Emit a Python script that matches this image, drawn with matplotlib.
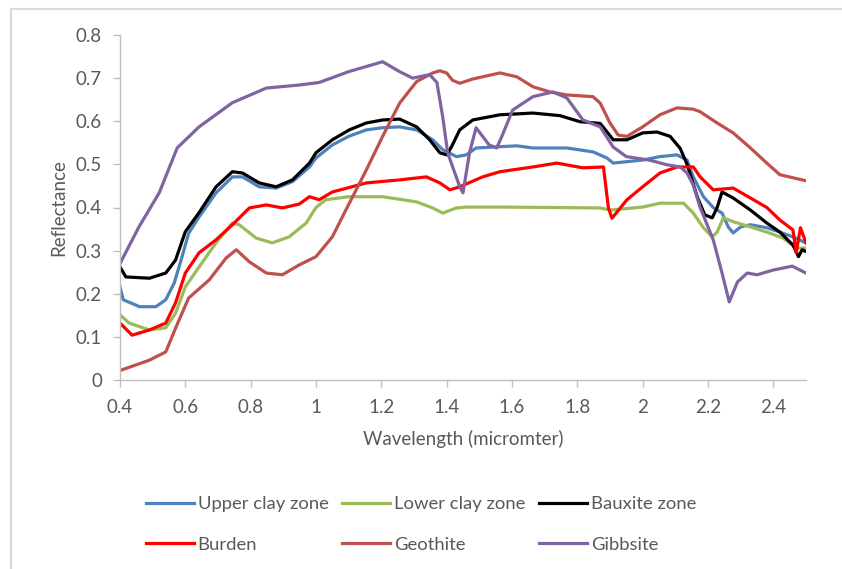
import numpy as np
import matplotlib
matplotlib.use("Agg")
import matplotlib.pyplot as plt
from matplotlib.patches import Rectangle

plt.rcParams["font.family"] = ["Lato", "DejaVu Sans"]

TXT = "#595959"
AX = "#BFBFBF"

# wavelength (micrometer) / reflectance
upper_w = [0.40, 0.41, 0.46, 0.51, 0.54, 0.566, 0.587, 0.61, 0.642, 0.694, 0.744, 0.775, 0.826,
           0.878, 0.928, 0.98, 1.0, 1.05, 1.10, 1.154, 1.204, 1.256, 1.308, 1.357, 1.388, 1.43,
           1.46, 1.49, 1.563, 1.615, 1.664, 1.768, 1.848, 1.89, 1.91, 2.0, 2.053, 2.105, 2.136,
           2.155, 2.186, 2.216, 2.243, 2.262, 2.277, 2.30, 2.33, 2.38, 2.42, 2.46, 2.5]
upper_r = [0.216, 0.186, 0.17, 0.17, 0.186, 0.225, 0.278, 0.340, 0.378, 0.434, 0.471, 0.471, 0.448,
           0.445, 0.46, 0.494, 0.515, 0.545, 0.565, 0.58, 0.585, 0.587, 0.58, 0.557, 0.534, 0.518,
           0.522, 0.538, 0.541, 0.543, 0.538, 0.538, 0.529, 0.515, 0.503, 0.51, 0.518, 0.522, 0.51,
           0.471, 0.425, 0.40, 0.387, 0.355, 0.341, 0.355, 0.36, 0.353, 0.343, 0.332, 0.318]

lower_w = [0.40, 0.428, 0.49, 0.54, 0.57, 0.60, 0.642, 0.694, 0.744, 0.765, 0.817, 0.866, 0.918,
           0.97, 1.0, 1.03, 1.10, 1.204, 1.308, 1.357, 1.388, 1.43, 1.46, 1.563, 1.87, 1.9, 2.0,
           2.053, 2.125, 2.155, 2.186, 2.213, 2.228, 2.247, 2.277, 2.33, 2.38, 2.43, 2.47, 2.5]
lower_r = [0.151, 0.132, 0.116, 0.121, 0.155, 0.216, 0.262, 0.318, 0.364, 0.36, 0.329, 0.318, 0.332,
           0.364, 0.40, 0.418, 0.425, 0.425, 0.413, 0.399, 0.387, 0.399, 0.401, 0.401, 0.399, 0.394,
           0.401, 0.41, 0.41, 0.387, 0.353, 0.332, 0.343, 0.376, 0.367, 0.355, 0.343, 0.329, 0.306, 0.306]

bauxite_w = [0.40, 0.418, 0.49, 0.54, 0.57, 0.60, 0.642, 0.694, 0.744, 0.775, 0.826, 0.878, 0.928,
             0.98, 1.0, 1.05, 1.102, 1.154, 1.204, 1.256, 1.308, 1.348, 1.379, 1.40, 1.415, 1.44,
             1.48, 1.563, 1.664, 1.747, 1.808, 1.87, 1.91, 1.952, 2.0, 2.044, 2.084, 2.115, 2.136,
             2.167, 2.19, 2.213, 2.228, 2.243, 2.277, 2.33, 2.38, 2.42, 2.46, 2.477, 2.488, 2.5]
bauxite_r = [0.262, 0.239, 0.236, 0.248, 0.278, 0.344, 0.388, 0.448, 0.483, 0.48, 0.457, 0.448, 0.464,
             0.503, 0.527, 0.557, 0.58, 0.596, 0.603, 0.605, 0.587, 0.557, 0.527, 0.522, 0.541, 0.58,
             0.603, 0.615, 0.619, 0.613, 0.599, 0.595, 0.557, 0.557, 0.573, 0.575, 0.565, 0.537, 0.50,
             0.425, 0.383, 0.376, 0.40, 0.436, 0.422, 0.394, 0.364, 0.343, 0.313, 0.286, 0.302, 0.298]

burden_w = [0.40, 0.437, 0.49, 0.54, 0.57, 0.60, 0.642, 0.694, 0.744, 0.796, 0.848, 0.897, 0.949,
            0.98, 1.01, 1.05, 1.154, 1.256, 1.338, 1.379, 1.41, 1.44, 1.51, 1.563, 1.664, 1.737,
            1.817, 1.88, 1.895, 1.906, 1.952, 2.0, 2.053, 2.105, 2.155, 2.176, 2.216, 2.277, 2.33,
            2.38, 2.42, 2.46, 2.47, 2.483, 2.5]
burden_r = [0.132, 0.104, 0.116, 0.132, 0.179, 0.248, 0.295, 0.325, 0.36, 0.399, 0.406, 0.399, 0.408,
            0.425, 0.418, 0.436, 0.457, 0.464, 0.471, 0.457, 0.441, 0.448, 0.471, 0.483, 0.494, 0.503,
            0.492, 0.494, 0.40, 0.375, 0.418, 0.448, 0.48, 0.494, 0.494, 0.471, 0.441, 0.445, 0.422,
            0.40, 0.371, 0.348, 0.295, 0.353, 0.318]

geo_w = [0.40, 0.49, 0.54, 0.57, 0.61, 0.673, 0.725, 0.756, 0.796, 0.848, 0.897, 0.949, 1.0, 1.05,
         1.102, 1.154, 1.204, 1.256, 1.308, 1.357, 1.379, 1.40, 1.418, 1.44, 1.48, 1.563, 1.615,
         1.664, 1.716, 1.768, 1.848, 1.87, 1.9, 1.925, 1.952, 2.0, 2.053, 2.105, 2.155, 2.176,
         2.228, 2.277, 2.33, 2.38, 2.42, 2.46, 2.5]
geo_r = [0.022, 0.046, 0.065, 0.12, 0.19, 0.232, 0.283, 0.302, 0.274, 0.248, 0.244, 0.267, 0.286, 0.332,
         0.41, 0.487, 0.565, 0.642, 0.692, 0.712, 0.717, 0.712, 0.695, 0.688, 0.698, 0.712, 0.703,
         0.68, 0.668, 0.661, 0.657, 0.642, 0.596, 0.568, 0.565, 0.587, 0.615, 0.631, 0.628, 0.622,
         0.596, 0.573, 0.538, 0.503, 0.476, 0.469, 0.462]

gib_w = [0.40, 0.458, 0.52, 0.575, 0.642, 0.744, 0.848, 0.949, 1.01, 1.10, 1.204, 1.256, 1.296,
         1.348, 1.37, 1.388, 1.403, 1.425, 1.44, 1.45, 1.47, 1.49, 1.51, 1.53, 1.553, 1.569, 1.602,
         1.664, 1.725, 1.768, 1.817, 1.87, 1.91, 1.95, 2.02, 2.075, 2.115, 2.136, 2.155, 2.176,
         2.216, 2.243, 2.265, 2.29, 2.32, 2.35, 2.40, 2.458, 2.5]
gib_r = [0.27, 0.355, 0.434, 0.538, 0.587, 0.643, 0.677, 0.684, 0.69, 0.715, 0.738, 0.715, 0.70,
         0.708, 0.69, 0.61, 0.527, 0.48, 0.448, 0.434, 0.527, 0.585, 0.565, 0.545, 0.538, 0.565, 0.626,
         0.657, 0.668, 0.654, 0.603, 0.587, 0.54, 0.518, 0.51, 0.499, 0.494, 0.48, 0.452, 0.40,
         0.325, 0.248, 0.181, 0.227, 0.248, 0.244, 0.255, 0.264, 0.248]

series = [
    ("Upper clay zone", upper_w, upper_r, "#4F81BD"),
    ("Lower clay zone", lower_w, lower_r, "#9BBB59"),
    ("Bauxite zone", bauxite_w, bauxite_r, "#000000"),
    ("Burden", burden_w, burden_r, "#FF0000"),
    ("Geothite", geo_w, geo_r, "#C0504D"),
    ("Gibbsite", gib_w, gib_r, "#8064A2"),
]

fig = plt.figure(figsize=(8.42, 5.69), dpi=100)
ax = fig.add_axes([120 / 842, 1 - 380 / 569, (806 - 120) / 842, (380 - 35) / 569])

lines = []
for name, w, r, c in series:
    ln, = ax.plot(w, r, color=c, lw=2.3, label=name)
    lines.append(ln)

ax.set_xlim(0.4, 2.5)
ax.set_ylim(0, 0.8)
ax.set_xticks(np.arange(0.4, 2.41, 0.2))
ax.set_xticklabels(["0.4", "0.6", "0.8", "1", "1.2", "1.4", "1.6", "1.8", "2", "2.2", "2.4"])
ax.set_yticks(np.arange(0, 0.81, 0.1))
ax.set_yticklabels(["0", "0.1", "0.2", "0.3", "0.4", "0.5", "0.6", "0.7", "0.8"])
for s in ["top", "right"]:
    ax.spines[s].set_visible(False)
for s in ["left", "bottom"]:
    ax.spines[s].set_color(AX)
    ax.spines[s].set_linewidth(1)
ax.tick_params(colors=AX, labelcolor=TXT, labelsize=13.5, length=5, width=1)
ax.tick_params(axis="x", pad=9)
ax.tick_params(axis="y", pad=8)
ax.set_xlabel("Wavelength (micromter)", color=TXT, fontsize=13.5, labelpad=10)
ax.set_ylabel("Reflectance", color=TXT, fontsize=13.5, labelpad=6)

# matplotlib fills legend columns first; reorder so rows read like the reference
order = [0, 3, 1, 4, 2, 5]
fig.legend([lines[i] for i in order], [series[i][0] for i in order],
           loc="upper left", bbox_to_anchor=(146 / 842, 1 - 496 / 569), ncol=3,
           frameon=False, fontsize=13.3, handlelength=2.6, handletextpad=0.2,
           columnspacing=0.75, labelspacing=1.35, borderpad=0, borderaxespad=0,
           labelcolor=TXT)

fig.add_artist(Rectangle((11 / 842, -0.1), 2, 1 - 9 / 569 + 0.1, transform=fig.transFigure,
                         fill=False, edgecolor="#D9D9D9", lw=1.5))

fig.savefig("out.png", dpi=100)
